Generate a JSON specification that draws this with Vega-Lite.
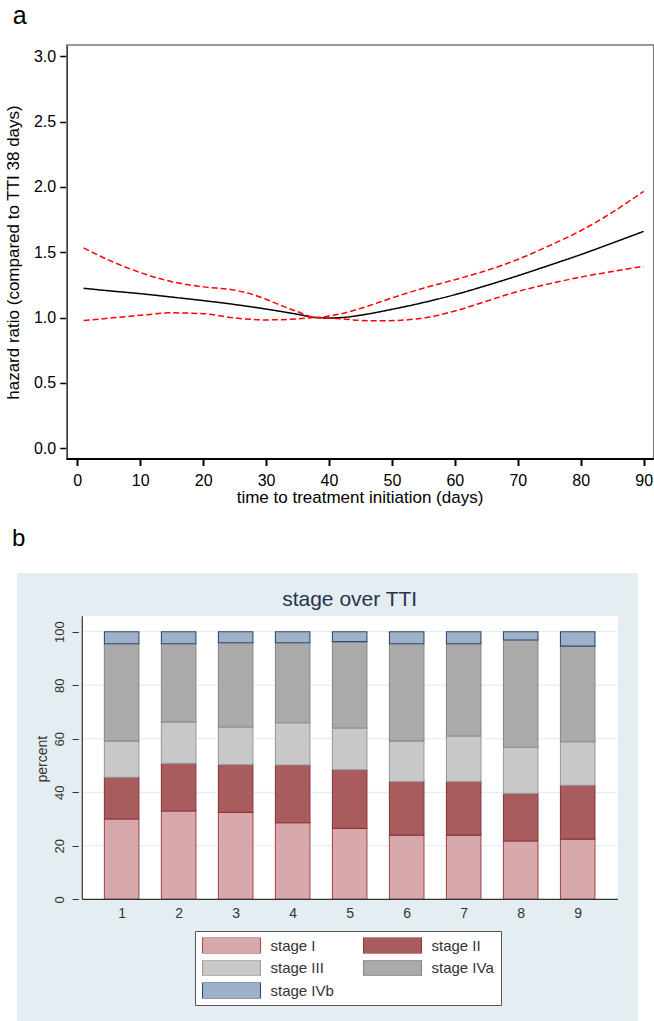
{
  "$schema": "https://vega.github.io/schema/vega-lite/v6.json",
  "padding": {"top": 3, "left": 4, "right": 0, "bottom": 0},
  "background": "#ffffff",
  "config": {
    "font": "Liberation Sans",
    "view": {"stroke": null},
    "concat": {"spacing": 22},
    "axis": {"labelFont": "Liberation Sans", "titleFont": "Liberation Sans", "grid": false}
  },
  "resolve": {"legend": {"fill": "independent", "stroke": "independent"}},
  "datasets": {
    "curves": [
      {"day": 1, "series": "HR", "hr": 1.224}, {"day": 5, "series": "HR", "hr": 1.205}, {"day": 10, "series": "HR", "hr": 1.183},
      {"day": 15, "series": "HR", "hr": 1.157}, {"day": 20, "series": "HR", "hr": 1.13}, {"day": 25, "series": "HR", "hr": 1.1},
      {"day": 30, "series": "HR", "hr": 1.065}, {"day": 35, "series": "HR", "hr": 1.025}, {"day": 38, "series": "HR", "hr": 1.0},
      {"day": 40, "series": "HR", "hr": 0.997}, {"day": 42, "series": "HR", "hr": 1.0}, {"day": 45, "series": "HR", "hr": 1.018},
      {"day": 50, "series": "HR", "hr": 1.063}, {"day": 55, "series": "HR", "hr": 1.115}, {"day": 60, "series": "HR", "hr": 1.175},
      {"day": 65, "series": "HR", "hr": 1.245}, {"day": 70, "series": "HR", "hr": 1.32}, {"day": 75, "series": "HR", "hr": 1.4},
      {"day": 80, "series": "HR", "hr": 1.482}, {"day": 85, "series": "HR", "hr": 1.57}, {"day": 90, "series": "HR", "hr": 1.66},
      {"day": 1, "series": "upper", "hr": 1.533}, {"day": 5, "series": "upper", "hr": 1.44}, {"day": 10, "series": "upper", "hr": 1.345},
      {"day": 15, "series": "upper", "hr": 1.275}, {"day": 20, "series": "upper", "hr": 1.235}, {"day": 25, "series": "upper", "hr": 1.21},
      {"day": 28, "series": "upper", "hr": 1.175}, {"day": 30, "series": "upper", "hr": 1.14}, {"day": 32, "series": "upper", "hr": 1.1},
      {"day": 35, "series": "upper", "hr": 1.045}, {"day": 38, "series": "upper", "hr": 1.0}, {"day": 40, "series": "upper", "hr": 1.012},
      {"day": 42, "series": "upper", "hr": 1.03}, {"day": 45, "series": "upper", "hr": 1.07}, {"day": 50, "series": "upper", "hr": 1.15},
      {"day": 55, "series": "upper", "hr": 1.225}, {"day": 60, "series": "upper", "hr": 1.29}, {"day": 65, "series": "upper", "hr": 1.36},
      {"day": 70, "series": "upper", "hr": 1.445}, {"day": 75, "series": "upper", "hr": 1.55}, {"day": 80, "series": "upper", "hr": 1.665},
      {"day": 85, "series": "upper", "hr": 1.805}, {"day": 90, "series": "upper", "hr": 1.967},
      {"day": 1, "series": "lower", "hr": 0.977}, {"day": 5, "series": "lower", "hr": 0.995}, {"day": 10, "series": "lower", "hr": 1.017},
      {"day": 15, "series": "lower", "hr": 1.036}, {"day": 20, "series": "lower", "hr": 1.03}, {"day": 25, "series": "lower", "hr": 0.997},
      {"day": 30, "series": "lower", "hr": 0.982}, {"day": 35, "series": "lower", "hr": 0.99}, {"day": 38, "series": "lower", "hr": 1.0},
      {"day": 40, "series": "lower", "hr": 0.996}, {"day": 42, "series": "lower", "hr": 0.99}, {"day": 45, "series": "lower", "hr": 0.978},
      {"day": 48, "series": "lower", "hr": 0.975}, {"day": 52, "series": "lower", "hr": 0.981}, {"day": 56, "series": "lower", "hr": 1.005},
      {"day": 60, "series": "lower", "hr": 1.05}, {"day": 65, "series": "lower", "hr": 1.125}, {"day": 70, "series": "lower", "hr": 1.2},
      {"day": 75, "series": "lower", "hr": 1.258}, {"day": 80, "series": "lower", "hr": 1.31}, {"day": 85, "series": "lower", "hr": 1.352},
      {"day": 90, "series": "lower", "hr": 1.393}
    ],
    "stages": [
      {"tti": 1, "stage": "stage I", "pct": 30.0}, {"tti": 1, "stage": "stage II", "pct": 15.6}, {"tti": 1, "stage": "stage III", "pct": 13.6}, {"tti": 1, "stage": "stage IVa", "pct": 36.3}, {"tti": 1, "stage": "stage IVb", "pct": 4.5},
      {"tti": 2, "stage": "stage I", "pct": 33.0}, {"tti": 2, "stage": "stage II", "pct": 17.8}, {"tti": 2, "stage": "stage III", "pct": 15.5}, {"tti": 2, "stage": "stage IVa", "pct": 29.2}, {"tti": 2, "stage": "stage IVb", "pct": 4.5},
      {"tti": 3, "stage": "stage I", "pct": 32.5}, {"tti": 3, "stage": "stage II", "pct": 17.9}, {"tti": 3, "stage": "stage III", "pct": 14.0}, {"tti": 3, "stage": "stage IVa", "pct": 31.5}, {"tti": 3, "stage": "stage IVb", "pct": 4.1},
      {"tti": 4, "stage": "stage I", "pct": 28.6}, {"tti": 4, "stage": "stage II", "pct": 21.6}, {"tti": 4, "stage": "stage III", "pct": 15.8}, {"tti": 4, "stage": "stage IVa", "pct": 29.9}, {"tti": 4, "stage": "stage IVb", "pct": 4.1},
      {"tti": 5, "stage": "stage I", "pct": 26.5}, {"tti": 5, "stage": "stage II", "pct": 21.9}, {"tti": 5, "stage": "stage III", "pct": 15.6}, {"tti": 5, "stage": "stage IVa", "pct": 32.3}, {"tti": 5, "stage": "stage IVb", "pct": 3.7},
      {"tti": 6, "stage": "stage I", "pct": 24.0}, {"tti": 6, "stage": "stage II", "pct": 20.0}, {"tti": 6, "stage": "stage III", "pct": 15.2}, {"tti": 6, "stage": "stage IVa", "pct": 36.3}, {"tti": 6, "stage": "stage IVb", "pct": 4.5},
      {"tti": 7, "stage": "stage I", "pct": 24.0}, {"tti": 7, "stage": "stage II", "pct": 20.0}, {"tti": 7, "stage": "stage III", "pct": 17.0}, {"tti": 7, "stage": "stage IVa", "pct": 34.5}, {"tti": 7, "stage": "stage IVb", "pct": 4.5},
      {"tti": 8, "stage": "stage I", "pct": 21.8}, {"tti": 8, "stage": "stage II", "pct": 17.8}, {"tti": 8, "stage": "stage III", "pct": 17.2}, {"tti": 8, "stage": "stage IVa", "pct": 40.1}, {"tti": 8, "stage": "stage IVb", "pct": 3.1},
      {"tti": 9, "stage": "stage I", "pct": 22.5}, {"tti": 9, "stage": "stage II", "pct": 20.1}, {"tti": 9, "stage": "stage III", "pct": 16.3}, {"tti": 9, "stage": "stage IVa", "pct": 35.7}, {"tti": 9, "stage": "stage IVb", "pct": 5.4}
    ],
    "gridvals": [{"v": 20}, {"v": 40}, {"v": 60}, {"v": 80}, {"v": 100}]
  },
  "vconcat": [
    {
      "width": 636.7,
      "height": 414,
      "title": {"text": "a", "anchor": "start", "frame": "group", "dx": -4.3, "dy": 25.4, "offset": 21, "baseline": "alphabetic", "fontSize": 25, "fontWeight": "normal", "font": "Liberation Sans", "color": "#000000"},
      "view": {"stroke": null},
      "layer": [
        {
          "data": {"name": "curves"},
          "mark": {"type": "line", "interpolate": "monotone", "strokeWidth": 1.5},
          "encoding": {
            "x": {"field": "day", "type": "quantitative", "scale": {"domain": [-9.582, 91.6], "nice": false, "zero": false},
              "axis": {"orient": "bottom", "values": [0, 10, 20, 30, 40, 50, 60, 70, 80, 90], "domain": false, "tickSize": 6.5, "tickWidth": 2, "tickColor": "#000000", "labelFontSize": 16, "labelColor": "#000000", "labelPadding": 7, "title": "time to treatment initiation (days)", "titleFontSize": 17, "titleFontWeight": "normal", "titleColor": "#000000", "titleX": 342.5, "titleY": 30, "titleBaseline": "top", "titleAlign": "center"}},
            "y": {"field": "hr", "type": "quantitative", "scale": {"domain": [-0.083, 3.087], "nice": false, "zero": false},
              "axis": {"orient": "left", "offset": -49.7, "values": [0, 0.5, 1, 1.5, 2, 2.5, 3], "format": ".1f", "domain": true, "domainColor": "#000000", "domainWidth": 1.5, "tickSize": 7, "tickWidth": 1.5, "tickColor": "#000000", "labelFontSize": 16, "labelColor": "#000000", "labelPadding": 4, "title": "hazard ratio (compared to TTI 38 days)", "titleFontSize": 17, "titleFontWeight": "normal", "titleColor": "#000000", "titlePadding": 11}},
            "color": {"field": "series", "type": "nominal", "scale": {"domain": ["HR", "lower", "upper"], "range": ["#000000", "#ff0000", "#ff0000"]}, "legend": null},
            "strokeDash": {"field": "series", "type": "nominal", "scale": {"domain": ["HR", "lower", "upper"], "range": [[1, 0], [6, 3], [6, 3]]}, "legend": null}
          }
        },
        {
          "data": {"values": [{}]},
          "mark": {"type": "rect", "fillOpacity": 0, "stroke": "#777777", "strokeWidth": 1.5},
          "encoding": {
            "x": {"datum": -1.68, "type": "quantitative"},
            "x2": {"datum": 91.6},
            "y": {"datum": -0.083, "type": "quantitative"},
            "y2": {"datum": 3.087}
          }
        },
        {
          "data": {"values": [{}]},
          "mark": {"type": "rule", "color": "#000000", "strokeWidth": 2},
          "encoding": {
            "x": {"datum": -1.68, "type": "quantitative"},
            "x2": {"datum": 91.6},
            "y": {"datum": -0.083, "type": "quantitative"}
          }
        }
      ]
    },
    {
      "width": 621,
      "height": 449,
      "title": {"text": "b", "anchor": "start", "frame": "group", "dx": -5, "dy": 22, "offset": 25, "baseline": "alphabetic", "fontSize": 24, "fontWeight": "normal", "font": "Liberation Sans", "color": "#000000"},
      "view": {"fill": "#e4edf1", "stroke": null},
      "layer": [
        {
          "data": {"values": [{}]},
          "mark": {"type": "rect", "fill": "#ffffff"},
          "encoding": {
            "x": {"datum": 0.31, "type": "quantitative"},
            "x2": {"datum": 9.706},
            "y": {"datum": 0, "type": "quantitative"},
            "y2": {"datum": 105.75}
          }
        },
        {
          "data": {"name": "gridvals"},
          "mark": {"type": "rule", "color": "#dfe9ee", "strokeWidth": 1},
          "encoding": {
            "x": {"datum": 0.31, "type": "quantitative"},
            "x2": {"datum": 9.706},
            "y": {"field": "v", "type": "quantitative"}
          }
        },
        {
          "data": {"name": "stages"},
          "mark": {"type": "bar", "size": 34.5, "strokeWidth": 1.1},
          "encoding": {
            "x": {"field": "tti", "type": "quantitative", "scale": {"domain": [-0.748, 9.97], "nice": false, "zero": false},
              "axis": {"orient": "bottom", "offset": -122.7, "values": [1, 2, 3, 4, 5, 6, 7, 8, 9], "format": "d", "domain": false, "ticks": false, "labelFontSize": 14, "labelColor": "#333333", "labelPadding": 7, "title": null}},
            "y": {"field": "pct", "type": "quantitative", "stack": "zero", "scale": {"domain": [-45.85, 121.94], "nice": false, "zero": false},
              "axis": {"orient": "left", "offset": -61.3, "values": [0, 20, 40, 60, 80, 100], "format": "d", "domain": false, "tickSize": 6.3, "tickWidth": 1, "tickColor": "#333333", "labelAngle": 270, "labelAlign": "center", "labelBaseline": "middle", "labelFontSize": 13, "labelColor": "#333333", "labelPadding": 12.5, "title": "percent", "titleFontSize": 14, "titleFontWeight": "normal", "titleColor": "#333333", "titleAngle": 270, "titleAlign": "center", "titleBaseline": "middle", "titleX": -35.6, "titleY": 185.7}},
            "fill": {"field": "stage", "type": "nominal",
              "scale": {"domain": ["stage I", "stage II", "stage III", "stage IVa", "stage IVb"], "range": ["#d8a9ac", "#a85c5e", "#c8c8c8", "#aaaaaa", "#9fb1c8"]},
              "legend": {"title": null, "orient": "none", "legendX": 178, "legendY": 358, "direction": "horizontal", "columns": 2, "symbolType": "M-1,-0.28H1V0.28H-1Z", "symbolSize": 3364, "symbolStrokeWidth": 1.1, "symbolOpacity": 1, "clipHeight": 16, "labelFontSize": 15, "labelColor": "#333333", "labelOffset": 9, "rowPadding": 6.5, "columnPadding": 28, "padding": 6.5, "fillColor": "#ffffff", "strokeColor": "#555555"}},
            "stroke": {"field": "stage", "type": "nominal",
              "scale": {"domain": ["stage I", "stage II", "stage III", "stage IVa", "stage IVb"], "range": ["#a64d52", "#8c383c", "#9c9c9c", "#8a8a8a", "#2f4b70"]},
              "legend": {"title": null, "orient": "none", "legendX": 178, "legendY": 358, "direction": "horizontal", "columns": 2, "symbolType": "M-1,-0.28H1V0.28H-1Z", "symbolSize": 3364, "symbolStrokeWidth": 1.1, "symbolOpacity": 1, "clipHeight": 16, "labelFontSize": 15, "labelColor": "#333333", "labelOffset": 9, "rowPadding": 6.5, "columnPadding": 28, "padding": 6.5, "fillColor": "#ffffff", "strokeColor": "#555555"}},
            "order": {"field": "stage", "sort": "ascending"}
          }
        },
        {
          "data": {"values": [{}]},
          "mark": {"type": "rule", "color": "#333333", "strokeWidth": 1.2},
          "encoding": {
            "x": {"datum": 0.31, "type": "quantitative"},
            "x2": {"datum": 9.706},
            "y": {"datum": 0, "type": "quantitative"}
          }
        },
        {
          "data": {"values": [{}]},
          "mark": {"type": "rule", "color": "#333333", "strokeWidth": 1.2},
          "encoding": {
            "x": {"datum": 0.31, "type": "quantitative"},
            "y": {"datum": 0, "type": "quantitative"},
            "y2": {"datum": 105.75}
          }
        },
        {
          "data": {"values": [{}]},
          "mark": {"type": "text", "text": "stage over TTI", "fontSize": 21, "color": "#27344f", "baseline": "alphabetic", "align": "center"},
          "encoding": {
            "x": {"datum": 5, "type": "quantitative"},
            "y": {"datum": 109.6, "type": "quantitative"}
          }
        }
      ]
    }
  ]
}
